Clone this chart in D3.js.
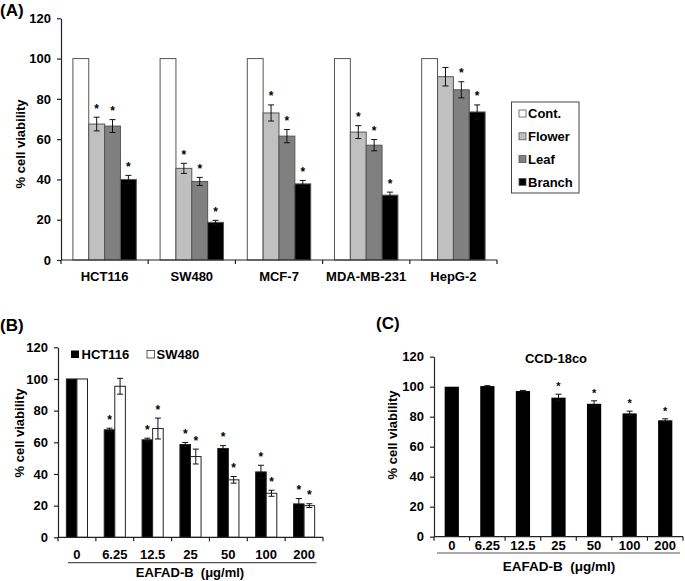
<!DOCTYPE html>
<html><head><meta charset="utf-8">
<script src="https://cdn.jsdelivr.net/npm/d3@7"></script>
<style>
body{margin:0;background:#fff;}
svg{display:block;font-family:Arial,"Liberation Sans",sans-serif;}
text{font-weight:bold;fill:#000;}
.pre{white-space:pre;}
</style></head>
<body><svg id="c" width="685" height="581"></svg>
<script>
// ---------- Panel A data ----------
const categoriesA = ["HCT116","SW480","MCF-7","MDA-MB-231","HepG-2"];
const seriesA = ["Cont.","Flower","Leaf","Branch"];
const contA = [100,100,100,100,100];
const flowerA = [67.5,45.5,73,63.5,91];
const leafA = [66.5,39,61.5,57,84.5];
const branchA = [40,18.7,37.8,32.2,73.5];
const contErrA = [0,0,0,0,0];
const flowerErrA = [3.4,2.5,4,3.2,4.6];
const leafErrA = [3.2,2,3.3,2.8,4];
const branchErrA = [2,1,1.7,1.5,3.5];
const contStarA = [0,0,0,0,0];
const flowerStarA = [1,1,1,1,0];
const leafStarA = [1,1,1,1,1];
const branchStarA = [1,1,1,1,1];
const yTicksA = [0,20,40,60,80,100,120];

// ---------- Panel B data ----------
const dosesB = ["0","6.25","12.5","25","50","100","200"];
const seriesB = ["HCT116","SW480"];
const hct116B = [100,67.9,61.6,58.6,56.1,41.3,21.1];
const hct116ErrB = [0,1,1,1.3,1.8,4.2,3.4];
const hct116StarB = [0,1,1,1,1,1,1];
const sw480B = [100,95.4,68.7,51,36.3,27.8,20];
const sw480ErrB = [0,5,6.6,4.7,2.1,1.9,1.2];
const sw480StarB = [0,0,1,1,1,1,1];
const yTicksB = [0,20,40,60,80,100,120];

// ---------- Panel C data ----------
const dosesC = ["0","6.25","12.5","25","50","100","200"];
const ccdC = [100,100.4,97.1,92.7,88.6,82.2,77.6];
const ccdErrC = [0,0.3,0.4,2.3,2,1.5,1];
const ccdStarC = [0,0,0,1,1,1,1];
const yTicksC = [0,20,40,60,80,100,120];

const svg = d3.select("#c");
const AX = "#222";

function yAxis(g, y, ticks, x){
  const ax = g.append("g").attr("transform",`translate(${x},0)`)
    .call(d3.axisLeft(y).tickValues(ticks).tickSize(4).tickSizeOuter(0).tickPadding(6));
  ax.select(".domain").attr("stroke",AX).attr("stroke-width",1.2);
  ax.selectAll(".tick line").attr("stroke",AX).attr("stroke-width",1.2);
  ax.selectAll(".tick text").attr("font-size",13).attr("font-weight","bold").attr("fill","#000")
    .attr("font-family","Arial, 'Liberation Sans', sans-serif");
}
function xAxis(g, x, y0, labelY){
  const [r0,r1] = x.range();
  g.append("line").attr("x1",r0).attr("x2",r1).attr("y1",y0).attr("y2",y0).attr("stroke",AX).attr("stroke-width",1.2);
  const bounds = x.domain().map(d=>x(d)).concat([r1]);
  g.selectAll(null).data(bounds).join("line")
    .attr("x1",d=>d).attr("x2",d=>d).attr("y1",y0).attr("y2",y0+4).attr("stroke",AX).attr("stroke-width",1.2);
  g.selectAll(null).data(x.domain()).join("text")
    .attr("x",d=>x(d)+x.bandwidth()/2).attr("y",labelY).attr("text-anchor","middle")
    .attr("font-size",13).text(d=>d);
}
function errBar(g, cx, yTop, yBot, cap){
  g.append("line").attr("x1",cx).attr("x2",cx).attr("y1",yTop).attr("y2",yBot).attr("stroke","#111").attr("stroke-width",1);
  g.append("line").attr("x1",cx-cap).attr("x2",cx+cap).attr("y1",yTop).attr("y2",yTop).attr("stroke","#111").attr("stroke-width",1);
  g.append("line").attr("x1",cx-cap).attr("x2",cx+cap).attr("y1",yBot).attr("y2",yBot).attr("stroke","#111").attr("stroke-width",1);
}
function star(g, cx, yTop, size){
  g.append("text").attr("x",cx).attr("y",yTop+size*0.62).attr("text-anchor","middle")
    .attr("font-size",size).attr("font-weight","normal").attr("fill","#333").text("*");
}

// ================= Panel A =================
(function(){
  const g = svg.append("g");
  const x0 = d3.scaleBand().domain(categoriesA).range([61,497]).padding(0);
  const x1 = d3.scaleBand().domain(seriesA).range([0,x0.bandwidth()]).paddingInner(0).paddingOuter(0.75);
  const y = d3.scaleLinear().domain([0,120]).range([260,18.3]);
  const colors = {"Cont.":"#ffffff","Flower":"#c0c0c0","Leaf":"#808080","Branch":"#000000"};
  const vals = {"Cont.":contA,"Flower":flowerA,"Leaf":leafA,"Branch":branchA};
  const errs = {"Cont.":contErrA,"Flower":flowerErrA,"Leaf":leafErrA,"Branch":branchErrA};
  const stars = {"Cont.":contStarA,"Flower":flowerStarA,"Leaf":leafStarA,"Branch":branchStarA};
  categoriesA.forEach((c,i)=>{
    seriesA.forEach(s=>{
      const v = vals[s][i];
      const bx = x0(c)+x1(s);
      g.append("rect").attr("x",bx).attr("y",y(v)).attr("width",x1.bandwidth()).attr("height",y(0)-y(v))
        .attr("fill",colors[s]).attr("stroke","#555").attr("stroke-width",1);
      const e = errs[s][i], cx = bx + x1.bandwidth()/2;
      if(e>0) errBar(g,cx,y(v+e),y(v-e),3);
      if(stars[s][i]) star(g,cx,y(v+e)-12,12);
    });
  });
  yAxis(g,y,yTicksA,61);
  xAxis(g,x0,260,281);
  g.append("text").attr("transform","translate(25,144) rotate(-90)").attr("text-anchor","middle")
    .attr("font-size",13).text("% cell viability");
  g.append("text").attr("x",0).attr("y",16).attr("font-size",17).text("(A)");
  // legend
  g.append("rect").attr("x",511.5).attr("y",102).attr("width",67.5).attr("height",91)
    .attr("fill","#fff").attr("stroke","#444").attr("stroke-width",1);
  seriesA.forEach((s,i)=>{
    const cy = 113.5 + i*22.8;
    g.append("rect").attr("x",519).attr("y",cy-3.5).attr("width",7).attr("height",7)
      .attr("fill",colors[s]).attr("stroke","#555").attr("stroke-width",0.8);
    g.append("text").attr("x",528).attr("y",cy+4.7).attr("font-size",13).text(s);
  });
})();

// ================= Panel B =================
(function(){
  const g = svg.append("g");
  const x0 = d3.scaleBand().domain(dosesB).range([58,323]).padding(0);
  const x1 = d3.scaleBand().domain(seriesB).range([0,x0.bandwidth()]).paddingInner(0).paddingOuter(0.79);
  const y = d3.scaleLinear().domain([0,120]).range([537.3,347.3]);
  const colors = {"HCT116":"#000000","SW480":"#ffffff"};
  const vals = {"HCT116":hct116B,"SW480":sw480B};
  const errs = {"HCT116":hct116ErrB,"SW480":sw480ErrB};
  const stars = {"HCT116":hct116StarB,"SW480":sw480StarB};
  dosesB.forEach((d,i)=>{
    seriesB.forEach(s=>{
      const v = vals[s][i];
      const bx = x0(d)+x1(s);
      g.append("rect").attr("x",bx).attr("y",y(v)).attr("width",x1.bandwidth()).attr("height",y(0)-y(v))
        .attr("fill",colors[s]).attr("stroke","#222").attr("stroke-width",1);
      const e = errs[s][i], cx = bx + x1.bandwidth()/2;
      if(e>0) errBar(g,cx,y(v+e),y(v-e),3);
      if(stars[s][i]) star(g,cx,y(v+e)-12,12);
    });
  });
  yAxis(g,y,yTicksB,58);
  xAxis(g,x0,537.3,558.5);
  g.append("line").attr("x1",68).attr("x2",316.5).attr("y1",562.7).attr("y2",562.7).attr("stroke","#555").attr("stroke-width",1.2);
  g.append("text").attr("class","pre").attr("x",190).attr("y",577).attr("text-anchor","middle").attr("font-size",13).text("EAFAD-B  (μg/ml)");
  g.append("text").attr("transform","translate(24,433) rotate(-90)").attr("text-anchor","middle")
    .attr("font-size",13).text("% cell viability");
  g.append("text").attr("x",0).attr("y",331).attr("font-size",17).text("(B)");
  // legend
  g.append("rect").attr("x",71).attr("y",350.5).attr("width",8).attr("height",7.5).attr("fill","#000");
  g.append("text").attr("x",81.5).attr("y",358.8).attr("font-size",13).text(seriesB[0]);
  g.append("rect").attr("x",147).attr("y",350.5).attr("width",7.5).attr("height",7.5).attr("fill","#fff").attr("stroke","#333").attr("stroke-width",0.8);
  g.append("text").attr("x",156.5).attr("y",358.8).attr("font-size",13).text(seriesB[1]);
})();

// ================= Panel C =================
(function(){
  const g = svg.append("g");
  const x = d3.scaleBand().domain(dosesC).range([434,683]).padding(0);
  const y = d3.scaleLinear().domain([0,120]).range([536.7,356.7]);
  const bw = x.bandwidth()*0.4;
  dosesC.forEach((d,i)=>{
    const v = ccdC[i];
    const bx = x(d)+(x.bandwidth()-bw)/2;
    g.append("rect").attr("x",bx).attr("y",y(v)).attr("width",bw).attr("height",y(0)-y(v)).attr("fill","#000");
    const e = ccdErrC[i], cx = bx+bw/2;
    if(e>0) errBar(g,cx,y(v+e),y(v-e),3);
    if(ccdStarC[i]) star(g,cx,y(v+e)-11,11);
  });
  yAxis(g,y,yTicksC,434);
  xAxis(g,x,536.7,550);
  g.append("line").attr("x1",437).attr("x2",680).attr("y1",553).attr("y2",553).attr("stroke","#555").attr("stroke-width",1.2);
  g.append("text").attr("class","pre").attr("x",559).attr("y",570.5).attr("text-anchor","middle").attr("font-size",13.5).text("EAFAD-B  (μg/ml)");
  g.append("text").attr("transform","translate(397,435) rotate(-90)").attr("text-anchor","middle")
    .attr("font-size",13).text("% cell viability");
  g.append("text").attr("x",376).attr("y",329).attr("font-size",17).text("(C)");
  g.append("text").attr("x",556).attr("y",363).attr("text-anchor","middle").attr("font-size",13).text("CCD-18co");
})();
</script></body></html>
